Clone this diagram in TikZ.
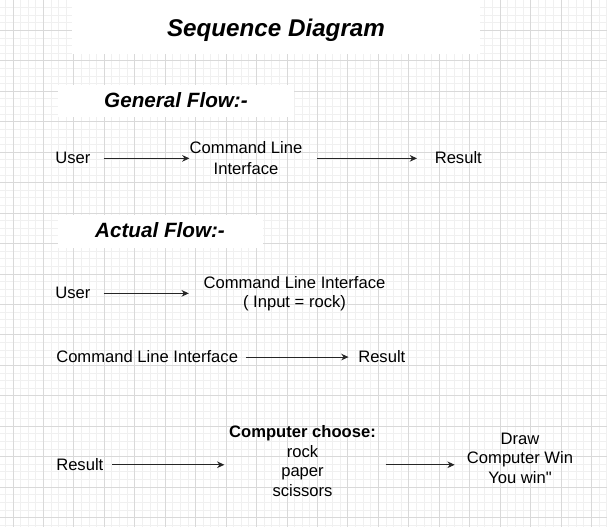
\documentclass[tikz,border=0pt]{standalone}
\usepackage{fontspec}
\setmainfont{Liberation Sans}[Ligatures=TeXOff]
\usetikzlibrary{arrows.meta}

\begin{document}
\begin{tikzpicture}[
    x=0.75pt, y=-0.75pt,
    minorline/.style={draw=black!6, line width=0.75pt},
    majorline/.style={draw=black!15, line width=0.75pt},
    paper/.style={fill=white},
    titletext/.style={anchor=base, inner sep=0pt,
                      font=\fontsize{18.15}{21}\selectfont\bfseries\itshape},
    heading/.style={anchor=base, inner sep=0pt,
                    font=\fontsize{15.5}{18}\selectfont\bfseries\itshape},
    msg/.style={anchor=base, inner sep=0pt, align=center,
                font=\fontsize{12.45}{14.6}\selectfont},
    arrow/.style={-{Stealth[length=5.5pt, width=5pt]}, line width=0.75pt, black!85}
  ]
    \useasboundingbox (0,0) rectangle (607,527);

    % Grid
    \foreach \k in {-1,...,78}
      \draw[minorline] ({13+7.6125*\k},0) -- ({13+7.6125*\k},527);
    \foreach \k in {0,...,69}
      \draw[minorline] (0,{7.6125*\k}) -- (607,{7.6125*\k});
    \foreach \k in {0,...,19}
      \draw[majorline] ({13+30.45*\k},0) -- ({13+30.45*\k},527);
    \foreach \k in {0,...,17}
      \draw[majorline] (0,{30.45*\k}) -- (607,{30.45*\k});

    % Headings
    \fill[paper] (72,0) rectangle (480,54);
    \fill[paper] (58,85) rectangle (294,117);
    \fill[paper] (58,215) rectangle (263,248);
    \node[titletext] (title) at (276,37) {Sequence Diagram};
    \node[heading] (general) at (176,108) {General Flow:-};
    \node[heading] (actual) at (160,238) {Actual Flow:-};

    % General flow
    \node[msg, anchor=base west] (user1) at (55,164) {User};
    \node[msg] (cli1) at (246,175) {Command Line\\[1.5pt]Interface};
    \node[msg, anchor=base west] (res1) at (434.5,164) {Result};

    % Actual flow
    \node[msg, anchor=base west] (user2) at (55,299) {User};
    \node[msg] (cli2) at (294.5,308) {Command Line Interface\\( Input = rock)};
    \node[msg, anchor=base west] (cli3) at (56,363) {Command Line Interface};
    \node[msg, anchor=base west] (res3) at (358,363) {Result};
    \node[msg, anchor=base west] (res4) at (56,470.7) {Result};
    \node[msg] (comp) at (302.5,496) {\textbf{Computer choose:}\\rock\\paper\\scissors};
    \node[msg] (win) at (520,483.3) {Draw\\Computer Win\\You win"};

    % Arrows
    \draw[arrow, shorten <=9.75pt] (user1.east) -- (user1.east -| cli1.west);
    \draw[arrow, shorten <=10.9pt, shorten >=13.1pt] (cli1.east |- user1.east) -- (user1.east -| res1.west);
    \draw[arrow, shorten <=9.75pt, shorten >=10.9pt] (user2.east) -- (user2.east -| cli2.west);
    \draw[arrow, shorten <=5.6pt, shorten >=7.1pt] (cli3.east) -- (res3.west);
    \draw[arrow, shorten <=6.4pt, shorten >=3.4pt] (res4.east) -- (res4.east -| comp.west);
    \draw[arrow, shorten <=7.1pt, shorten >=9pt] (res4.east -| comp.east) -- (res4.east -| win.west);
  \end{tikzpicture}
\end{document}
